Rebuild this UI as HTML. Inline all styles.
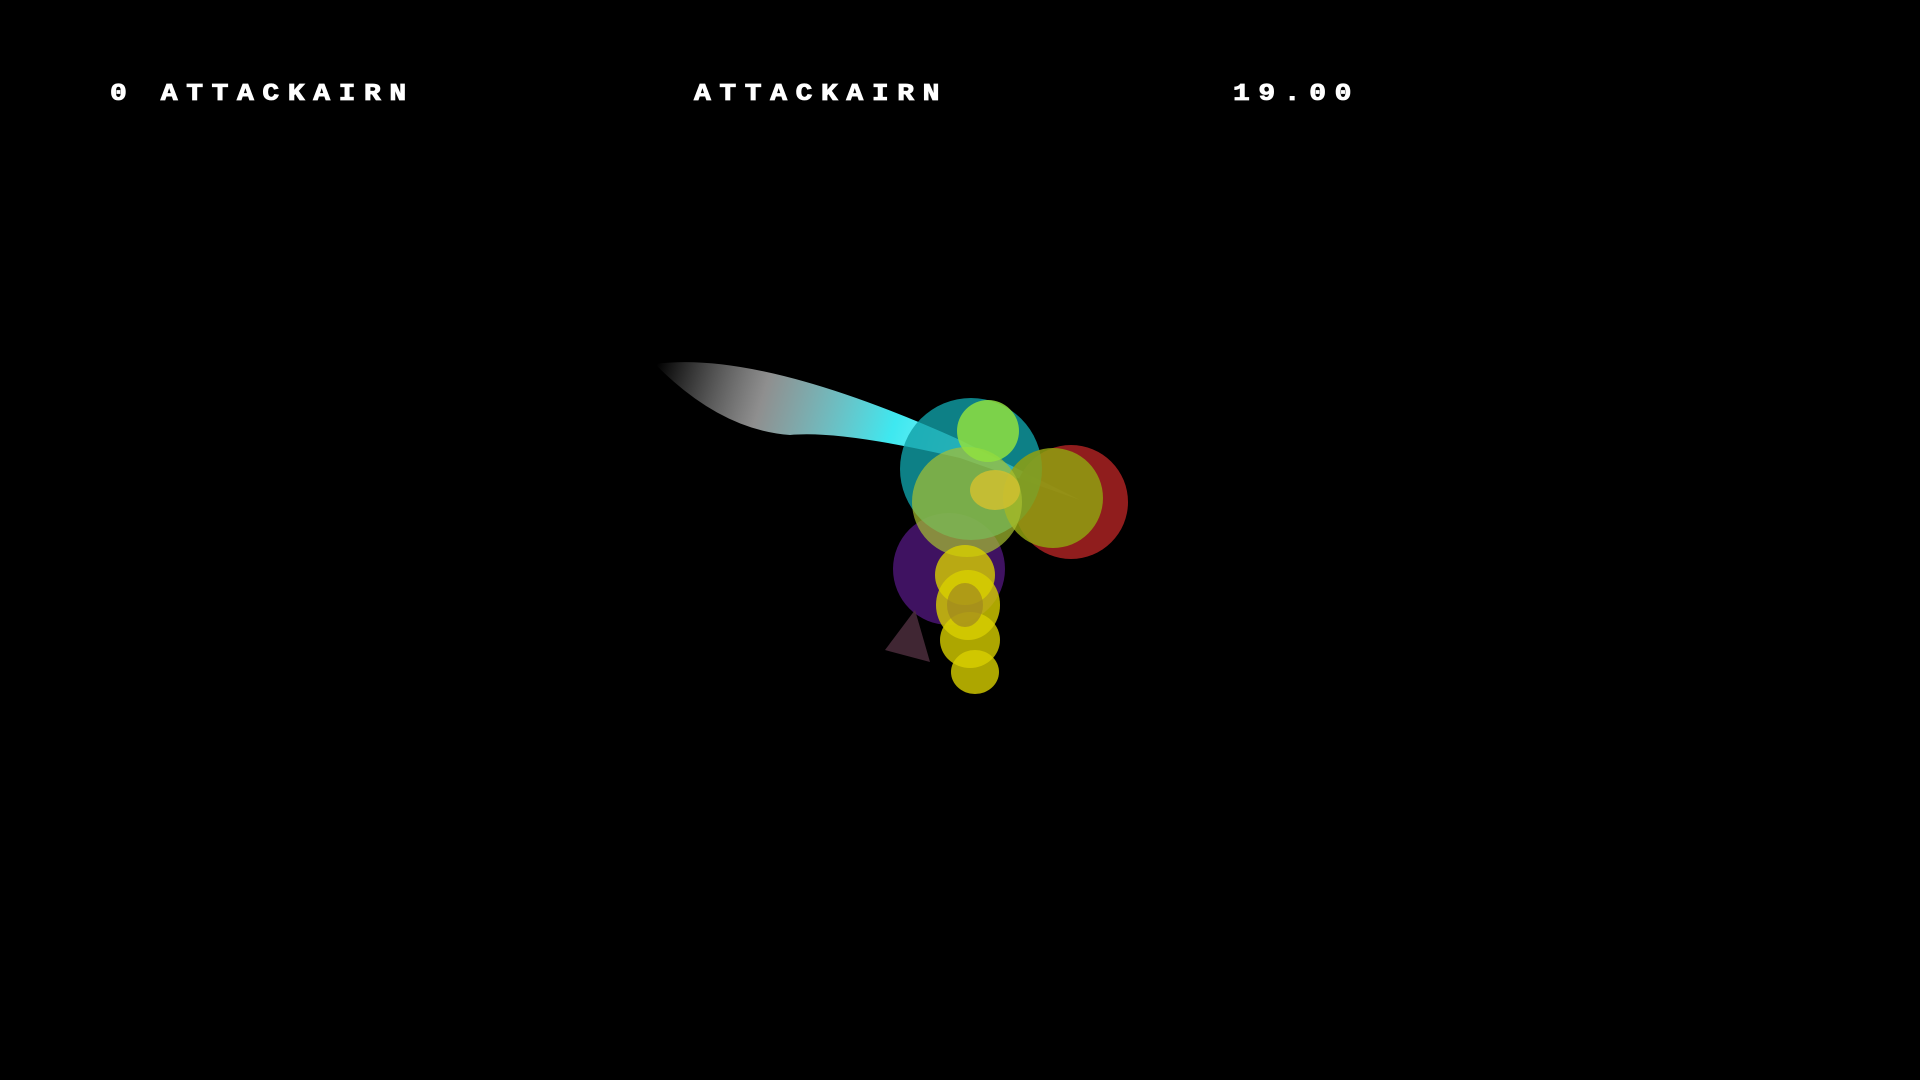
<!DOCTYPE html>
<html><head><meta charset="utf-8"><style>
html,body{margin:0;padding:0;background:#000;width:1920px;height:1080px;overflow:hidden}
.t{position:absolute;color:#fff;font-family:"Liberation Mono",monospace;font-weight:bold;font-size:28px;letter-spacing:8.6px;top:80px;line-height:30px;transform:scaleY(0.85);-webkit-text-stroke:1px #fff}
svg{position:absolute;left:0;top:0}
</style></head><body>
<div class="t" style="left:110px">0 ATTACKAIRN</div>
<div class="t" style="left:694px">ATTACKAIRN</div>
<div class="t" style="left:1233px">19.00</div>
<svg width="1920" height="1080">
<defs>
<linearGradient id="tr" x1="655" y1="370" x2="1080" y2="500" gradientUnits="userSpaceOnUse">
<stop offset="0" stop-color="#fff" stop-opacity="0"/>
<stop offset="0.25" stop-color="#ccc" stop-opacity="0.7"/>
<stop offset="0.55" stop-color="#3ee8f0"/>
<stop offset="1" stop-color="#e8ffff"/>
</linearGradient>
</defs>
<path d="M655 364 Q760 350 960 440 L1080 500 L960 458 Q840 430 790 435 Q720 430 655 364 Z" fill="url(#tr)"/>
<circle cx="949" cy="569" r="56" fill="#5a1a8a" opacity="0.7"/>
<circle cx="1071" cy="502" r="57" fill="#a02020" opacity="0.9"/>
<circle cx="971" cy="469" r="71" fill="#10a0a8" opacity="0.8"/>
<circle cx="1053" cy="498" r="50" fill="#90a010" opacity="0.85"/>
<circle cx="967" cy="502" r="55" fill="#a8c030" opacity="0.7"/>
<circle cx="988" cy="431" r="31" fill="#90e040" opacity="0.85"/>
<ellipse cx="965" cy="575" rx="30" ry="30" fill="#d8d000" opacity="0.8"/>
<ellipse cx="968" cy="605" rx="32" ry="35" fill="#d8d000" opacity="0.8"/>
<ellipse cx="970" cy="640" rx="30" ry="28" fill="#d8d000" opacity="0.8"/>
<ellipse cx="975" cy="672" rx="24" ry="22" fill="#d8d000" opacity="0.8"/>
<ellipse cx="965" cy="605" rx="18" ry="22" fill="#a08820" opacity="0.7"/>
<ellipse cx="995" cy="490" rx="25" ry="20" fill="#d0c030" opacity="0.85"/>
<path d="M915 610 L885 650 L930 662 Z" fill="#503040" opacity="0.8"/>
</svg>
</body></html>
